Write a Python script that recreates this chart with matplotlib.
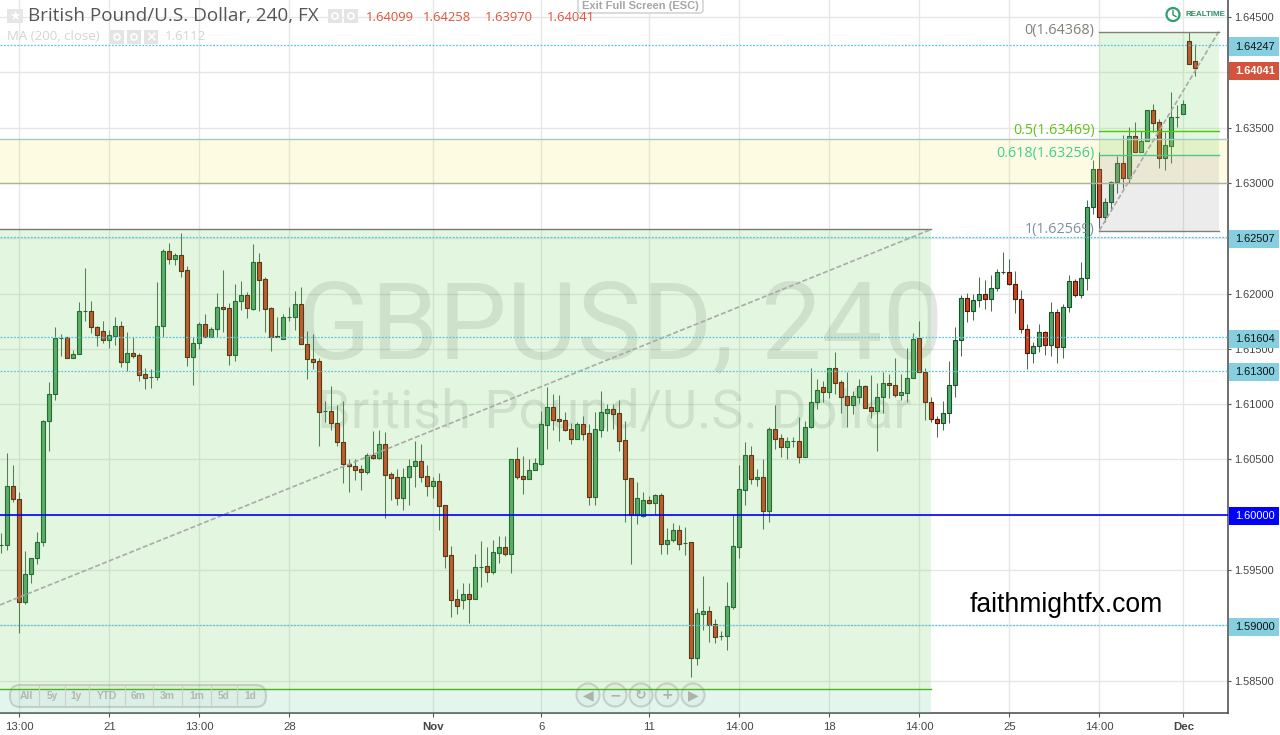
import numpy as np
import matplotlib
matplotlib.use("Agg")
import matplotlib.pyplot as plt
from matplotlib.patches import Rectangle, FancyBboxPatch, Circle
from matplotlib.transforms import Affine2D

opens = [59726,59726,60260,60142,59211,59464,59609,59753,60847,61091,
61598,61607,61417,61453,61842,61842,61697,61661,61579,61616,
61706,61381,61462,61444,61272,61245,61245,61706,62384,62312,
62348,62212,61426,61552,61724,61607,61679,61878,61869,61444,
61932,61986,61860,62285,62131,61869,61616,61589,61788,61788,
61905,61543,61408,61390,60938,60938,60829,60657,60459,60441,
60413,60386,60540,60513,60639,60368,60341,60151,60341,60441,
60486,60350,60260,60305,60088,59636,59238,59229,59283,59238,
59527,59536,59482,59654,59708,59645,60504,60350,60323,60404,
60459,60811,60974,60865,60856,60775,60685,60820,60739,60160,
60766,60920,60956,60920,60675,60332,59997,59988,60133,60106,
60178,59735,59771,59862,59744,59753,58705,59103,59130,59012,
58904,58904,59166,59708,60223,60540,60323,60341,60034,60775,
60693,60612,60666,60666,60522,60793,61019,61155,61109,61327,
61200,61073,60992,61064,61164,60974,60938,61064,61191,61173,
61082,61100,61236,61598,61290,61019,60865,60829,60920,61173,
61579,61959,61842,61941,61995,61950,62050,62194,62194,62086,
61950,61679,61462,61525,61652,61534,61833,61516,61878,62113,
61986,62140,62782,63125,62691,62827,63008,63180,63044,63424,
63279,63378,63659,63550,63225,63333,63595,63623,64282,64099]
highs = [59835,60558,60450,60205,59672,59609,59844,60856,61200,61697,
61634,61607,61489,61923,62231,61932,61706,61751,61670,61788,
61751,61652,61607,61462,61327,61318,62104,62402,62456,62366,
62547,62249,61607,61742,61815,61697,62004,62212,61914,62086,
62113,62013,62447,62366,62149,61878,61788,61815,61878,62022,
62059,61661,61634,61417,61028,61164,60992,61028,60504,60504,
60450,60558,60757,60766,60748,60386,60413,60422,60504,60666,
60639,60450,60341,60377,60088,59717,59328,59383,59383,59645,
59762,59708,59771,59808,59808,60504,60612,60531,60504,60513,
60938,61155,61091,61082,60929,60829,60838,60892,60820,60929,
61118,61001,61001,61037,60847,60332,60296,60205,60169,60187,
60196,59880,59925,59907,59889,59753,59157,59446,59175,59057,
58949,59392,59997,60450,60657,60621,60413,60504,60793,60992,
60730,60702,60702,60883,60847,61327,61227,61209,61327,61471,
61218,61290,61118,61227,61173,61263,61191,61290,61272,61417,
61272,61507,61643,61751,61327,61064,60892,61028,61390,61697,
61986,62004,61995,62149,62122,62167,62221,62375,62312,62203,
62031,61724,61561,61724,61661,61923,61860,61905,62167,62131,
62285,62845,63207,63279,62863,63017,63243,63433,63505,63550,
63469,63659,63713,63577,63460,63821,63704,63749,64368,64258]
lows = [59654,59681,60115,58931,59193,59383,59555,59717,60576,61037,
61435,61417,61417,61453,61751,61643,61525,61552,61507,61534,
61336,61299,61417,61209,61137,61146,61218,61607,62267,62258,
62149,61345,61173,61498,61607,61607,61607,61652,61354,61390,
61851,61779,61851,61842,61652,61480,61607,61589,61751,61670,
61543,61227,61318,60621,60838,60766,60621,60287,60205,60314,
60223,60368,60504,60504,59971,60133,60088,60043,60088,60251,
60296,60169,60151,59862,59519,59076,59103,59148,59021,59238,
59347,59392,59464,59564,59627,59473,60323,60187,60323,60404,
60450,60594,60766,60666,60757,60639,60685,60675,60088,60088,
60703,60757,60775,60576,59934,59555,59916,59979,60097,60007,
59645,59645,59753,59681,59636,58533,58642,58958,58849,58840,
58867,58777,59148,59609,60088,60278,60260,59871,59934,60594,
60522,60504,60612,60468,60522,60784,60956,61019,61055,61091,
60920,60793,60911,61010,60965,60874,60576,60920,61055,61064,
61037,61019,61236,61290,60856,60838,60703,60766,60829,61064,
61435,61742,61760,61878,61860,61842,62022,62176,62077,61824,
61643,61318,61372,61471,61444,61435,61372,61417,61833,61968,
61959,62031,62719,62592,62646,62746,62908,62953,62999,63279,
63279,63378,63460,63135,63116,63180,63505,63623,64075,63970]
closes = [59726,60260,60142,59211,59464,59609,59753,60847,61091,61598,
61598,61417,61453,61842,61842,61697,61625,61579,61625,61706,
61381,61462,61435,61263,61236,61245,61706,62384,62312,62348,
62203,61426,61552,61724,61607,61679,61878,61860,61444,61932,
61986,61869,62285,62122,61860,61607,61607,61788,61788,61905,
61543,61408,61381,60929,60938,60829,60657,60459,60441,60404,
60386,60540,60513,60639,60359,60332,60151,60341,60441,60486,
60341,60260,60305,60079,59627,59229,59175,59283,59238,59527,
59527,59482,59663,59708,59645,60504,60341,60323,60404,60468,
60820,60974,60856,60847,60766,60685,60820,60730,60160,60775,
60929,60956,60911,60666,60323,59997,60151,60133,60106,60178,
59735,59771,59862,59735,59744,58705,59112,59130,59003,58895,
58904,59175,59717,60232,60540,60323,60341,60034,60775,60685,
60612,60666,60666,60522,60793,61019,61127,61109,61327,61191,
61064,60992,61073,61164,60965,60938,61064,61191,61173,61082,
61109,61236,61589,61290,61019,60865,60829,60920,61173,61579,
61959,61842,61941,61995,61950,62050,62194,62194,62086,61950,
61679,61462,61525,61652,61534,61833,61516,61878,62113,61986,
62140,62782,63125,62691,62827,63008,63180,63044,63424,63279,
63378,63659,63541,63225,63342,63595,63595,63713,64075,64041]

tick_bars = [3, 18, 33, 48, 72, 90, 108, 123, 138, 153, 168, 183, 197]
tick_names = ["13:00", "21", "13:00", "28", "Nov", "6", "11", "14:00", "18", "14:00", "25", "14:00", "Dec"]
price_ticks = [1.585, 1.59, 1.595, 1.60, 1.605, 1.61, 1.615, 1.62, 1.625, 1.63, 1.635, 1.64, 1.645]
hidden_ticks = [1.59, 1.60, 1.625, 1.64]

dotted_levels = [1.64247, 1.62507, 1.61604, 1.61300, 1.59000]
fib_levels = [1.64368, 1.63469, 1.63256, 1.62569]
fib_names = ["0(1.64368)", "0.5(1.63469)", "0.618(1.63256)", "1(1.62569)"]
fib_colors = ["#80807a", "#62c21c", "#3fcf8e", "#8090a0"]
fib_line_colors = ["#80807a", "#48cc00", "#4fc48c", "#80807a"]

o, h, l, c = [np.array(v) / 1e5 + 1 for v in (opens, highs, lows, closes)]
bars = np.arange(len(o))

fig = plt.figure(figsize=(12.8, 7.35), dpi=100)
ax = fig.add_axes([0, 22 / 735, 1228 / 1280, 713 / 735])
ax.set_xlim(-0.217, 204.45)
ax.set_ylim(1.58207, 1.64654)
px = Affine2D().scale(1, -1).translate(0, 735)  # screen pixels, y down

sans = "Liberation Sans"
ax.set_xticks(tick_bars)
ax.set_xticklabels(tick_names, fontname=sans, fontsize=8.2, color="#444444")
for lab, name in zip(ax.get_xticklabels(), tick_names):
    if name in ("Nov", "Dec"):
        lab.set_fontweight("bold")
ax.yaxis.tick_right()
ax.set_yticks(price_ticks)
ax.set_yticklabels(["" if p in hidden_ticks else f"{p:.5f}" for p in price_ticks],
                   fontname=sans, fontsize=7.9, color="#444444")
ax.tick_params(axis="y", length=2, width=0.8, color="#555555", pad=2.5)
ax.tick_params(axis="x", length=3, width=0.8, color="#555555", pad=3.5)
ax.grid(True, color="#e6e6e6", lw=1, zorder=0.5)
ax.set_axisbelow(True)
for side in ("left", "top"):
    ax.spines[side].set_visible(False)
for side in ("right", "bottom"):
    ax.spines[side].set_color("#555555")
    ax.spines[side].set_linewidth(1.2)

# watermark
ax.text(0.505, 0.5395, "GBPUSD, 240", transform=ax.transAxes, ha="center", va="center",
        fontname="Roboto", fontsize=78, color="black", alpha=0.1, zorder=1)
ax.text(0.5, 0.4208, "British Pound/U.S. Dollar", transform=ax.transAxes, ha="center", va="center",
        fontname="Roboto", fontsize=39, color="black", alpha=0.1, zorder=1)

# candles
up = c >= o
ax.vlines(bars, l, h, color="#4e6b52", lw=0.75, zorder=2)
ax.bar(bars[up], (c - o)[up], bottom=o[up], width=0.7, color="#56a56c", edgecolor="#14542a", lw=0.8, zorder=3)
ax.bar(bars[~up], (c - o)[~up], bottom=o[~up], width=0.7, color="#cf4222", edgecolor="#4a1808", lw=0.8, zorder=3)

# big box
box_left, box_right = -1, 155
ax.add_patch(Rectangle((box_left, 1.58424), box_right - box_left, 1.62580 - 1.58424, color="#73d25f", alpha=0.2, lw=0, zorder=4))
ax.add_patch(Rectangle((box_left, 1.58), box_right - box_left, 0.00424, color="#6fd6a5", alpha=0.2, lw=0, zorder=4))
ax.plot([box_left, box_right], [1.62580, 1.62580], color="#777777", lw=1, zorder=5)
ax.plot([box_left, box_right], [1.58424, 1.58424], color="#45b81a", lw=1, zorder=5)
ax.plot([-0.217, box_right], [1.59184, 1.62580], color="#aaaaaa", lw=1.2, dashes=(3, 1.4), zorder=5)

# yellow band
ax.axhspan(1.63, 1.63397, color="#f5e542", alpha=0.15, lw=0, zorder=4)
ax.axhline(1.63397, color="#a8c8c4", lw=1, zorder=5)
ax.axhline(1.63, color="#b0b0a0", lw=1, zorder=5)

# fib retracement
fib_left, fib_right = 183, 202.9
ax.add_patch(Rectangle((fib_left, fib_levels[2]), fib_right - fib_left, fib_levels[0] - fib_levels[2], color="#73d25f", alpha=0.2, lw=0, zorder=4))
ax.add_patch(Rectangle((fib_left, fib_levels[3]), fib_right - fib_left, fib_levels[2] - fib_levels[3], color="#808080", alpha=0.15, lw=0, zorder=4))
ax.plot([fib_left, fib_right], [fib_levels[3], fib_levels[0]], color="#aaaaaa", lw=1.2, dashes=(3, 1.4), zorder=5)
for level, name, colour, line_colour in zip(fib_levels, fib_names, fib_colors, fib_line_colors):
    ax.plot([fib_left, fib_right], [level, level], color=line_colour, lw=1, zorder=5)
    ax.text(fib_left - 0.8, level + 0.00008, name, ha="right", va="center", fontname="Open Sans",
            fontsize=10.4, color=colour, zorder=6)

# horizontal levels
for level in dotted_levels:
    ax.axhline(level, color="#55c8e0", lw=0.9, dashes=(1.5, 1.2), zorder=5)
ax.axhline(1.6, color="#0000ff", lw=1.2, zorder=6)


def tag(price, text, face, ink, weight="normal"):
    ax.add_patch(Rectangle((1.001, price - 0.00083), 0.0405, 0.00163, transform=ax.get_yaxis_transform(),
                           color=face, lw=0, clip_on=False, zorder=7))
    ax.text(1.0055, price - 0.00002, text, transform=ax.get_yaxis_transform(), ha="left", va="center",
            fontname=sans, fontsize=7.9, color=ink, weight=weight, zorder=8)


for level in dotted_levels:
    tag(level - 0.00012, f"{level:.5f}", "#86cfe0", "#111111")
tag(1.60000 - 0.00012, "1.60000", "#0000ff", "white")
tag(1.64041 - 0.00028, "1.64041", "#d4533c", "white", "bold")

# header
fig.add_artist(Rectangle((7, 9), 16, 14, transform=px, color="#e6e6e6", lw=0))
fig.text(15, 16, "★", transform=px, ha="center", va="center", color="white", fontsize=9, family="DejaVu Sans")
fig.text(28, 16, "British Pound/U.S. Dollar, 240, FX", transform=px, ha="left", va="center",
         fontname="Open Sans", fontsize=13.6, color="#555555")
for x0 in (328, 344):
    fig.add_artist(Rectangle((x0, 9), 14, 14, transform=px, color="#e4e4e4", lw=0))
    fig.add_artist(Circle((x0 + 7, 16), 3, transform=px, fc="none", ec="white", lw=1.2))
fig.text(366, 17.5, "1.64099", transform=px, ha="left", va="center", fontname="Open Sans", fontsize=9.4, color="#e0533c")
fig.text(423, 17.5, "1.64258", transform=px, ha="left", va="center", fontname="Open Sans", fontsize=9.4, color="#e0533c")
fig.text(485, 17.5, "1.63970", transform=px, ha="left", va="center", fontname="Open Sans", fontsize=9.4, color="#e0533c")
fig.text(547, 17.5, "1.64041", transform=px, ha="left", va="center", fontname="Open Sans", fontsize=9.4, color="#e0533c")
fig.text(7, 36.5, "MA (200, close)", transform=px, ha="left", va="center", fontname="Open Sans", fontsize=9.5, color="#d4d4d4")
for x0 in (110, 127):
    fig.add_artist(Rectangle((x0, 30), 14, 14, transform=px, color="#e4e4e4", lw=0))
    fig.add_artist(Circle((x0 + 7, 37), 3, transform=px, fc="none", ec="white", lw=1.2))
fig.add_artist(Rectangle((144, 30), 14, 14, transform=px, color="#e4e4e4", lw=0))
fig.text(151, 37, "×", transform=px, ha="center", va="center", color="white", fontsize=10, family="DejaVu Sans", weight="bold")
fig.text(165, 36.5, "1.6112", transform=px, ha="left", va="center", fontname="Open Sans", fontsize=9.5, color="#d4d4d4")

fig.add_artist(FancyBboxPatch((578, -6), 125, 19, boxstyle="round,pad=0,rounding_size=3", transform=px,
                              fc="white", ec="#cccccc", lw=1))
fig.text(640, 6, "Exit Full Screen (ESC)", transform=px, ha="center", va="center", fontname=sans,
         fontsize=8, color="#a6a6a6", weight="bold")

fig.add_artist(Circle((1173, 14.5), 6.5, transform=px, fc="white", ec="#2e9e6e", lw=1.6))
fig.add_artist(plt.Line2D([1173, 1173, 1176], [10.5, 15, 16.5], transform=px, color="#2e8e66", lw=1))
fig.text(1186, 15, "REALTIME", transform=px, ha="left", va="center", fontname=sans, fontsize=5.8, color="#2e8e66", weight="bold")

# range buttons
fig.add_artist(FancyBboxPatch((10, 685), 256, 22, boxstyle="round,pad=0,rounding_size=10", transform=px,
                              fc=(0.5, 0.5, 0.5, 0.06), ec=(0.5, 0.5, 0.5, 0.3), lw=1.5))
range_names = ["All", "5y", "1y", "YTD", "6m", "3m", "1m", "5d", "1d"]
range_centers = [26, 52, 76, 107, 138, 167, 197, 224, 250]
for name, cx in zip(range_names, range_centers):
    fig.text(cx, 696, name, transform=px, ha="center", va="center", fontname=sans, fontsize=7.4, color="#b0b8b0", weight="bold")
for sep in (39, 65, 89, 125, 153, 182, 211, 237):
    fig.add_artist(plt.Line2D([sep, sep], [686, 706], transform=px, color="#c8d0c8", lw=0.8))

# zoom buttons
nav_glyphs = ["◀", "−", "↻", "+", "▶"]
nav_x = [588, 615, 641, 667, 693]
for glyph, cx in zip(nav_glyphs, nav_x):
    fig.add_artist(Circle((cx, 695), 11.5, transform=px, fc=(0.5, 0.5, 0.5, 0.04), ec=(0.5, 0.5, 0.5, 0.3), lw=1.5))
    fig.text(cx, 695, glyph, transform=px, ha="center", va="center", family="DejaVu Sans", fontsize=10, color="#aab4aa", weight="bold")

fig.text(1066.5, 605, "faithmightfx.com", transform=px, ha="center", va="center", fontname=sans, fontsize=19.1, color="black")

fig.savefig("out.png", dpi=100)
